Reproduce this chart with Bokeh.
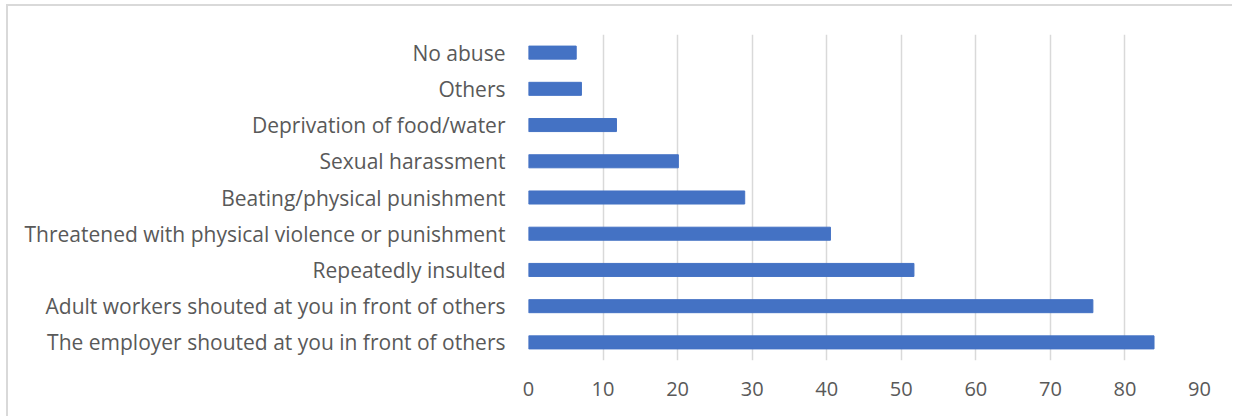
from bokeh.plotting import figure
from bokeh.embed import file_html
from bokeh.resources import INLINE
from bokeh.models import FixedTicker

categories = [
    "The employer shouted at you in front of others",
    "Adult workers shouted at you in front of others",
    "Repeatedly insulted",
    "Threatened with physical violence or punishment",
    "Beating/physical punishment",
    "Sexual harassment",
    "Deprivation of food/water",
    "Others",
    "No abuse",
]
values = [83.9, 75.7, 51.7, 40.5, 29.0, 20.1, 11.8, 7.1, 6.4]
x_ticks = [0, 10, 20, 30, 40, 50, 60, 70, 80, 90]

p = figure(
    y_range=categories,
    x_range=(0, 90),
    width=1226,
    height=412,
    output_backend="svg",
    toolbar_location=None,
    min_border_left=520,
    min_border_right=35,
    min_border_top=28,
    min_border_bottom=58,
    styles={
        "margin-left": "6px",
        "margin-top": "4px",
        "border-left": "2px solid #d9d9d9",
        "border-top": "2px solid #d9d9d9",
    },
)

p.hbar(y=categories, right=values, left=0, height=0.36, color="#4472C4")

p.outline_line_color = None
p.ygrid.grid_line_color = None
p.xgrid.grid_line_color = "#d9d9d9"
p.xgrid.grid_line_width = 1.5
p.xaxis.ticker = FixedTicker(ticks=x_ticks)

for ax in (p.xaxis, p.yaxis):
    ax.axis_line_color = None
    ax.major_tick_line_color = None
    ax.minor_tick_line_color = None
    ax.major_tick_out = 0
    ax.major_tick_in = 0
    ax.minor_tick_out = 0
    ax.major_label_text_font = "Open Sans"
    ax.major_label_text_color = "#595959"

p.xaxis.major_label_text_font_size = "20px"
p.yaxis.major_label_text_font_size = "21px"
p.xaxis.major_label_standoff = 21
p.yaxis.major_label_standoff = 23

open("out.html", "w").write(file_html(p, INLINE))
